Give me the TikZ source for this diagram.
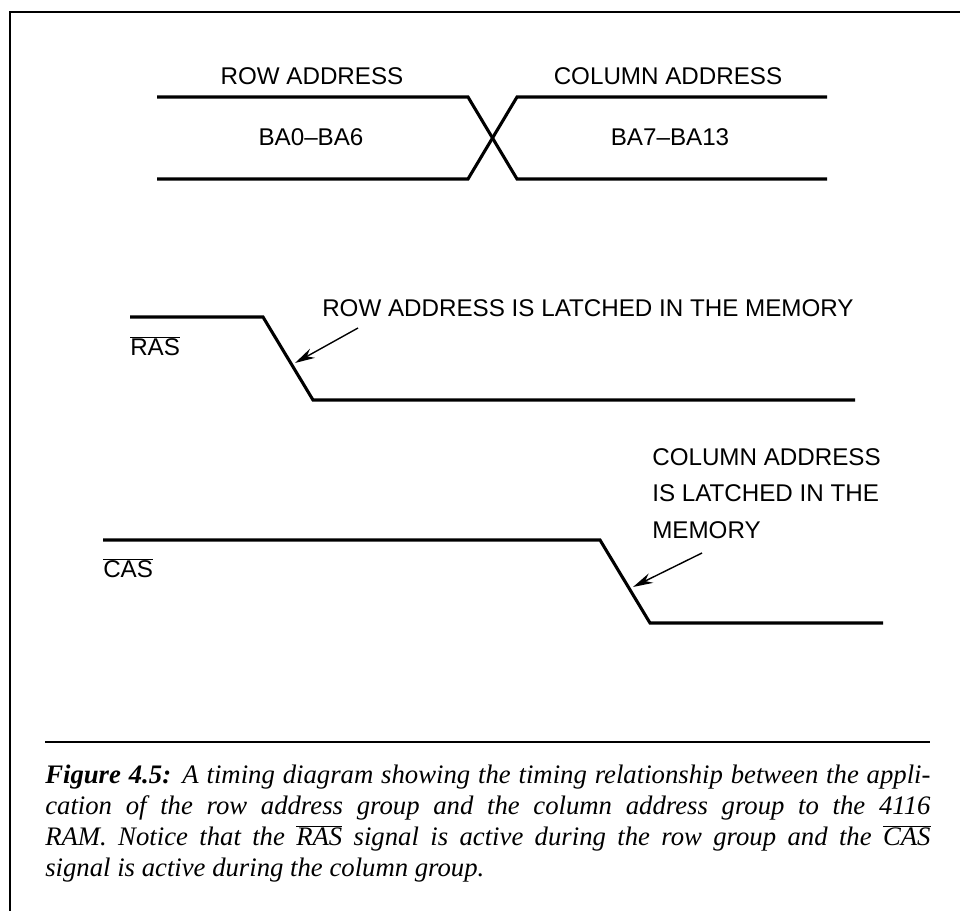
\documentclass[tikz,border=0pt]{standalone}
\usepackage{fontspec}
\setmainfont{Liberation Serif}
\setsansfont{Liberation Sans}
\usetikzlibrary{arrows.meta}

\begin{document}
\begin{tikzpicture}[
  x=0.025cm, y=-0.025cm,
  >={Stealth[length=5mm,width=2.6mm]},
  signal/.style={line width=2.2pt},
  lbl/.style={font=\sffamily\fontsize{17.2}{26}\selectfont, inner sep=0pt},
  note/.style={->, line width=1pt}
]
  \useasboundingbox (0,0) rectangle (960,911);
  \draw[line width=1.8pt] (10,911) -- (10,12) -- (960,12);

  % address lines
  \coordinate (ba1) at (157,97);
  \coordinate (ba2) at (468,97);
  \coordinate (ba3) at (517,179);
  \coordinate (ba4) at (827,179);
  \coordinate (bb1) at (157,179);
  \coordinate (bb2) at (468,179);
  \coordinate (bb3) at (517,97);
  \coordinate (bb4) at (827,97);
  \draw[signal] (ba1) -- (ba2) -- (ba3) -- (ba4);
  \draw[signal] (bb1) -- (bb2) -- (bb3) -- (bb4);

  \node[lbl] (rowadr) at (312,76) {ROW ADDRESS};
  \node[lbl] (coladr) at (668,76) {COLUMN ADDRESS};
  \node[lbl] (rowbits) at (311,137) {BA0--BA6};
  \node[lbl] (colbits) at (670,137) {BA7--BA13};

  % RAS
  \coordinate (r1) at (130,317);
  \coordinate (r2) at (263,317);
  \coordinate (r3) at (313,400);
  \coordinate (r4) at (855,400);
  \draw[signal] (r1) -- (r2) -- (r3) -- (r4);
  \node[lbl, anchor=west] (ras) at (130,346) {$\overline{\mbox{RAS}}$};
  \node[lbl, anchor=west] (rasnote) at (322,308) {ROW ADDRESS IS LATCHED IN THE MEMORY};
  \coordinate (rastail) at (358,328);
  \coordinate (rashead) at (295,363);
  \draw[note] (rastail) -- (rashead);

  % CAS
  \coordinate (c1) at (103,540);
  \coordinate (c2) at (600,540);
  \coordinate (c3) at (650,623);
  \coordinate (c4) at (883,623);
  \draw[signal] (c1) -- (c2) -- (c3) -- (c4);
  \node[lbl, anchor=west] (cas) at (103,568) {$\overline{\mbox{CAS}}$};
  \node[lbl, anchor=north west, align=left] (casnote) at (652,448)
    {COLUMN ADDRESS\\IS LATCHED IN THE\\MEMORY};
  \coordinate (castail) at (702,553);
  \coordinate (cashead) at (633,587);
  \draw[note] (castail) -- (cashead);

  % caption
  \coordinate (rule1) at (45,742);
  \coordinate (rule2) at (930,742);
  \draw[line width=1.5pt] (rule1) -- (rule2);
  \node[anchor=north west, inner sep=0pt, text width=22.125cm, align=justify,
        font=\fontsize{19}{22}\selectfont\itshape] (caption) at (45,765)
    {\textbf{Figure 4.5:} A timing diagram showing the timing relationship between the appli-\linebreak
     cation of the row address group and the column address group to the 4116\linebreak
     RAM. Notice that the $\overline{\mbox{RAS}}$ signal is active during the row group and the $\overline{\mbox{CAS}}$\linebreak
     signal is active during the column group.};
\end{tikzpicture}
\end{document}
